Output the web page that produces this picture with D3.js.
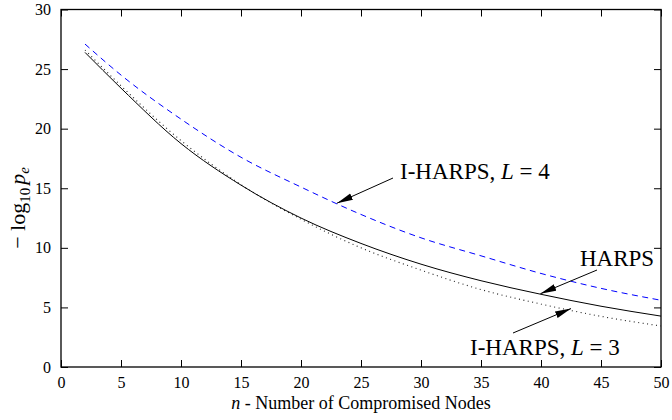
<!DOCTYPE html>
<html>
<head>
<meta charset="utf-8">
<script src="https://cdn.jsdelivr.net/npm/d3@7"></script>
<style>
  html, body { margin: 0; padding: 0; background: #fff; }
  svg text { font-family: "Liberation Serif", "DejaVu Serif", serif; fill: #000; }
</style>
</head>
<body>
<div id="chart"></div>
<script>
// n - number of compromised nodes
const nValues = [2, 5, 10, 15, 20, 25, 30, 35, 40, 45, 50];
// -log10 pe per scheme
const harps = [26.4, 23.4, 18.75, 15.26, 12.5, 10.37, 8.63, 7.24, 6.1, 5.1, 4.27];
const iharpsL3 = [26.6, 23.6, 19.0, 15.3, 12.4, 10.0, 8.13, 6.5, 5.28, 4.25, 3.44];
const iharpsL4 = [27.1, 24.5, 20.8, 17.6, 15.1, 12.8, 10.84, 9.33, 7.85, 6.6, 5.6];
const xTicks = [0, 5, 10, 15, 20, 25, 30, 35, 40, 45, 50];
const yTicks = [0, 5, 10, 15, 20, 25, 30];

const width = 672, height = 420;
const margin = { top: 9.5, right: 11, bottom: 53, left: 61 };
const innerW = width - margin.left - margin.right;
const innerH = height - margin.top - margin.bottom;

const svg = d3.select("#chart").append("svg")
  .attr("width", width)
  .attr("height", height);

const g = svg.append("g")
  .attr("transform", `translate(${margin.left},${margin.top})`);

const x = d3.scaleLinear().domain([0, 50]).range([0, innerW]);
const y = d3.scaleLinear().domain([0, 30]).range([innerH, 0]);

// ---------- Axes (inward ticks, mirrored) ----------
const tickLen = 7;
g.append("g")
  .attr("transform", `translate(0,${innerH})`)
  .call(d3.axisBottom(x).tickValues(xTicks).tickSizeInner(-tickLen).tickSizeOuter(0).tickPadding(10))
  .call(a => a.selectAll("text").attr("font-size", "16px").attr("dy", "0.71em"));
g.append("g")
  .call(d3.axisLeft(y).tickValues(yTicks).tickSizeInner(-tickLen).tickSizeOuter(0).tickPadding(10))
  .call(a => a.selectAll("text").attr("font-size", "16px"));
g.append("g")
  .call(d3.axisTop(x).tickValues(xTicks).tickSizeInner(-tickLen).tickSizeOuter(0).tickFormat(""));
g.append("g")
  .attr("transform", `translate(${innerW},0)`)
  .call(d3.axisRight(y).tickValues(yTicks).tickSizeInner(-tickLen).tickSizeOuter(0).tickFormat(""));

g.selectAll(".domain").remove();
g.selectAll(".tick line").attr("stroke", "#000").attr("stroke-width", 1);
g.selectAll(".tick text").attr("font-family", "Liberation Serif, serif").attr("fill", "#000");

g.append("rect")
  .attr("width", innerW)
  .attr("height", innerH)
  .attr("fill", "none")
  .attr("stroke", "#000")
  .attr("stroke-width", 1.3);

// ---------- Lines ----------
const line = d3.line()
  .x(d => x(d[0]))
  .y(d => y(d[1]))
  .curve(d3.curveMonotoneX);

const series = [
  { values: iharpsL4, color: "#0000ff", dash: "6,4.5", w: 1 },
  { values: iharpsL3, color: "#222", dash: "1,3.5", w: 1.1 },
  { values: harps, color: "#000", dash: null, w: 1 }
];

g.selectAll("path.series")
  .data(series)
  .enter()
  .append("path")
  .attr("class", "series")
  .attr("d", s => line(nValues.map((n, i) => [n, s.values[i]])))
  .attr("fill", "none")
  .attr("stroke", s => s.color)
  .attr("stroke-width", s => s.w)
  .attr("stroke-dasharray", s => s.dash);

// ---------- Annotations ----------
svg.append("defs").append("marker")
  .attr("id", "arrow")
  .attr("viewBox", "0 -4 16 8")
  .attr("refX", 16)
  .attr("refY", 0)
  .attr("markerUnits", "userSpaceOnUse")
  .attr("markerWidth", 16)
  .attr("markerHeight", 8)
  .attr("orient", "auto")
  .append("path")
  .attr("d", "M0,-3.5L16,0L0,3.5Z")
  .attr("fill", "#000");

const notes = [
  { label: ["I-HARPS, ", "L", " = 4"], tx: 400, ty: 179, from: [393, 178], to: [23, 13.75] },
  { label: ["HARPS"], tx: 580, ty: 266, from: [597, 270], to: [39.95, 6.15] },
  { label: ["I-HARPS, ", "L", " = 3"], tx: 470, ty: 355, from: [513, 333], to: [42.5, 4.9] }
];

notes.forEach(nt => {
  svg.append("line")
    .attr("x1", nt.from[0])
    .attr("y1", nt.from[1])
    .attr("x2", margin.left + x(nt.to[0]))
    .attr("y2", margin.top + y(nt.to[1]))
    .attr("stroke", "#000")
    .attr("stroke-width", 1)
    .attr("marker-end", "url(#arrow)");

  const t = svg.append("text")
    .attr("x", nt.tx)
    .attr("y", nt.ty)
    .attr("font-size", "23px");
  nt.label.forEach((s, i) => {
    t.append("tspan")
      .attr("font-style", i === 1 ? "italic" : "normal")
      .text(s);
  });
});

// ---------- Axis titles ----------
const xt = svg.append("text")
  .attr("x", margin.left + innerW / 2)
  .attr("y", 409)
  .attr("text-anchor", "middle")
  .attr("font-size", "18px");
xt.append("tspan").attr("font-style", "italic").text("n");
xt.append("tspan").text(" - Number of Compromised Nodes");

const yt = svg.append("text")
  .attr("transform", "translate(25,208) rotate(-90)")
  .attr("text-anchor", "middle")
  .attr("font-size", "22px");
yt.append("tspan").text("\u2212 log");
yt.append("tspan").attr("font-size", "15px").attr("dy", 5).text("10");
yt.append("tspan").attr("dy", -5).attr("dx", 3).attr("font-style", "italic").text("p");
yt.append("tspan").attr("font-size", "15px").attr("dy", 4).attr("font-style", "italic").text("e");
</script>
</body>
</html>
